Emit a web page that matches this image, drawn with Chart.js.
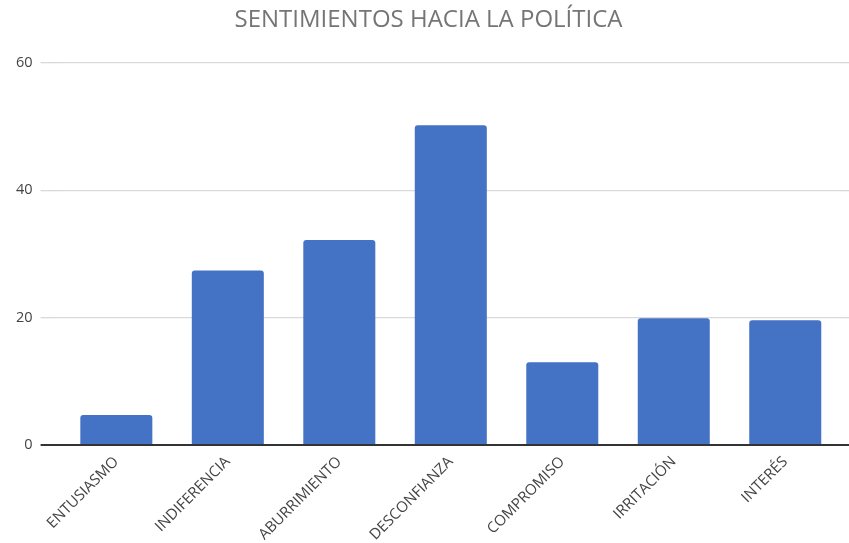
<!DOCTYPE html>
<html>
<head>
<meta charset="utf-8">
<script src="https://cdn.jsdelivr.net/npm/chart.js@4.4.1/dist/chart.umd.min.js"></script>
<style>
  html, body { margin: 0; padding: 0; background: #fff; }
  #wrap { width: 849px; height: 543px; }
</style>
</head>
<body>
<div id="wrap"><canvas id="myChart"></canvas></div>
<script>
// datos
var categorias = ["ENTUSIASMO", "INDIFERENCIA", "ABURRIMIENTO", "DESCONFIANZA", "COMPROMISO", "IRRITACIÓN", "INTERÉS"];
var valores = [4.7, 27.4, 32.2, 50.2, 13.0, 19.9, 19.6];
var ticksY = [0, 20, 40, 60];

function colorGrid(c)
{
    if (c.tick && c.tick.value == 0) return '#333333';
    return '#d9d9d9';
}

function anchoGrid(c)
{
    if (c.tick && c.tick.value == 0) return 2;
    return 1.3;
}

var ctx = document.getElementById('myChart').getContext('2d');
var myChart = new Chart(ctx, {
    type: 'bar',
    data: {
        labels: categorias,
        datasets: [{
            label: 'Sentimientos',
            data: valores,
            backgroundColor: '#4472C4',
            borderRadius: { topLeft: 3, topRight: 3 },
            borderSkipped: 'bottom',
            categoryPercentage: 1.0,
            barPercentage: 0.646
        }]
    },
    options: {
        responsive: true,
        maintainAspectRatio: false,
        animation: false,
        layout: { padding: { left: 8, right: 0, top: 0, bottom: 0 } },
        plugins: {
            legend: { display: false },
            tooltip: { enabled: false },
            title: {
                display: true,
                text: 'SENTIMIENTOS HACIA LA POLÍTICA',
                color: '#757575',
                font: { family: 'Open Sans', size: 24, weight: 'normal' },
                padding: { top: 6, bottom: 28 }
            }
        },
        scales: {
            x: {
                grid: { display: false },
                border: { display: false },
                afterFit: function(axis) {
                    axis.height = 98;
                },
                ticks: {
                    color: '#444',
                    font: { family: 'Open Sans', size: 15 },
                    maxRotation: 45,
                    minRotation: 45,
                    padding: 0,
                    autoSkip: false
                }
            },
            y: {
                min: 0,
                max: 60,
                afterBuildTicks: function(axis) {
                    axis.ticks = ticksY.map(function(v) { return { value: v }; });
                },
                border: { display: false },
                grid: {
                    color: colorGrid,
                    tickColor: colorGrid,
                    lineWidth: anchoGrid,
                    tickLength: 20
                },
                ticks: {
                    color: '#444',
                    font: { family: 'Open Sans', size: 14.5 },
                    padding: 8
                }
            },
            y2: {
                position: 'right',
                min: 0,
                max: 60,
                afterBuildTicks: function(axis) {
                    axis.ticks = ticksY.map(function(v) { return { value: v }; });
                },
                border: { display: false },
                grid: {
                    drawOnChartArea: false,
                    color: colorGrid,
                    tickColor: colorGrid,
                    lineWidth: anchoGrid,
                    tickLength: 8
                },
                ticks: { display: false }
            }
        }
    }
});
</script>
</body>
</html>
